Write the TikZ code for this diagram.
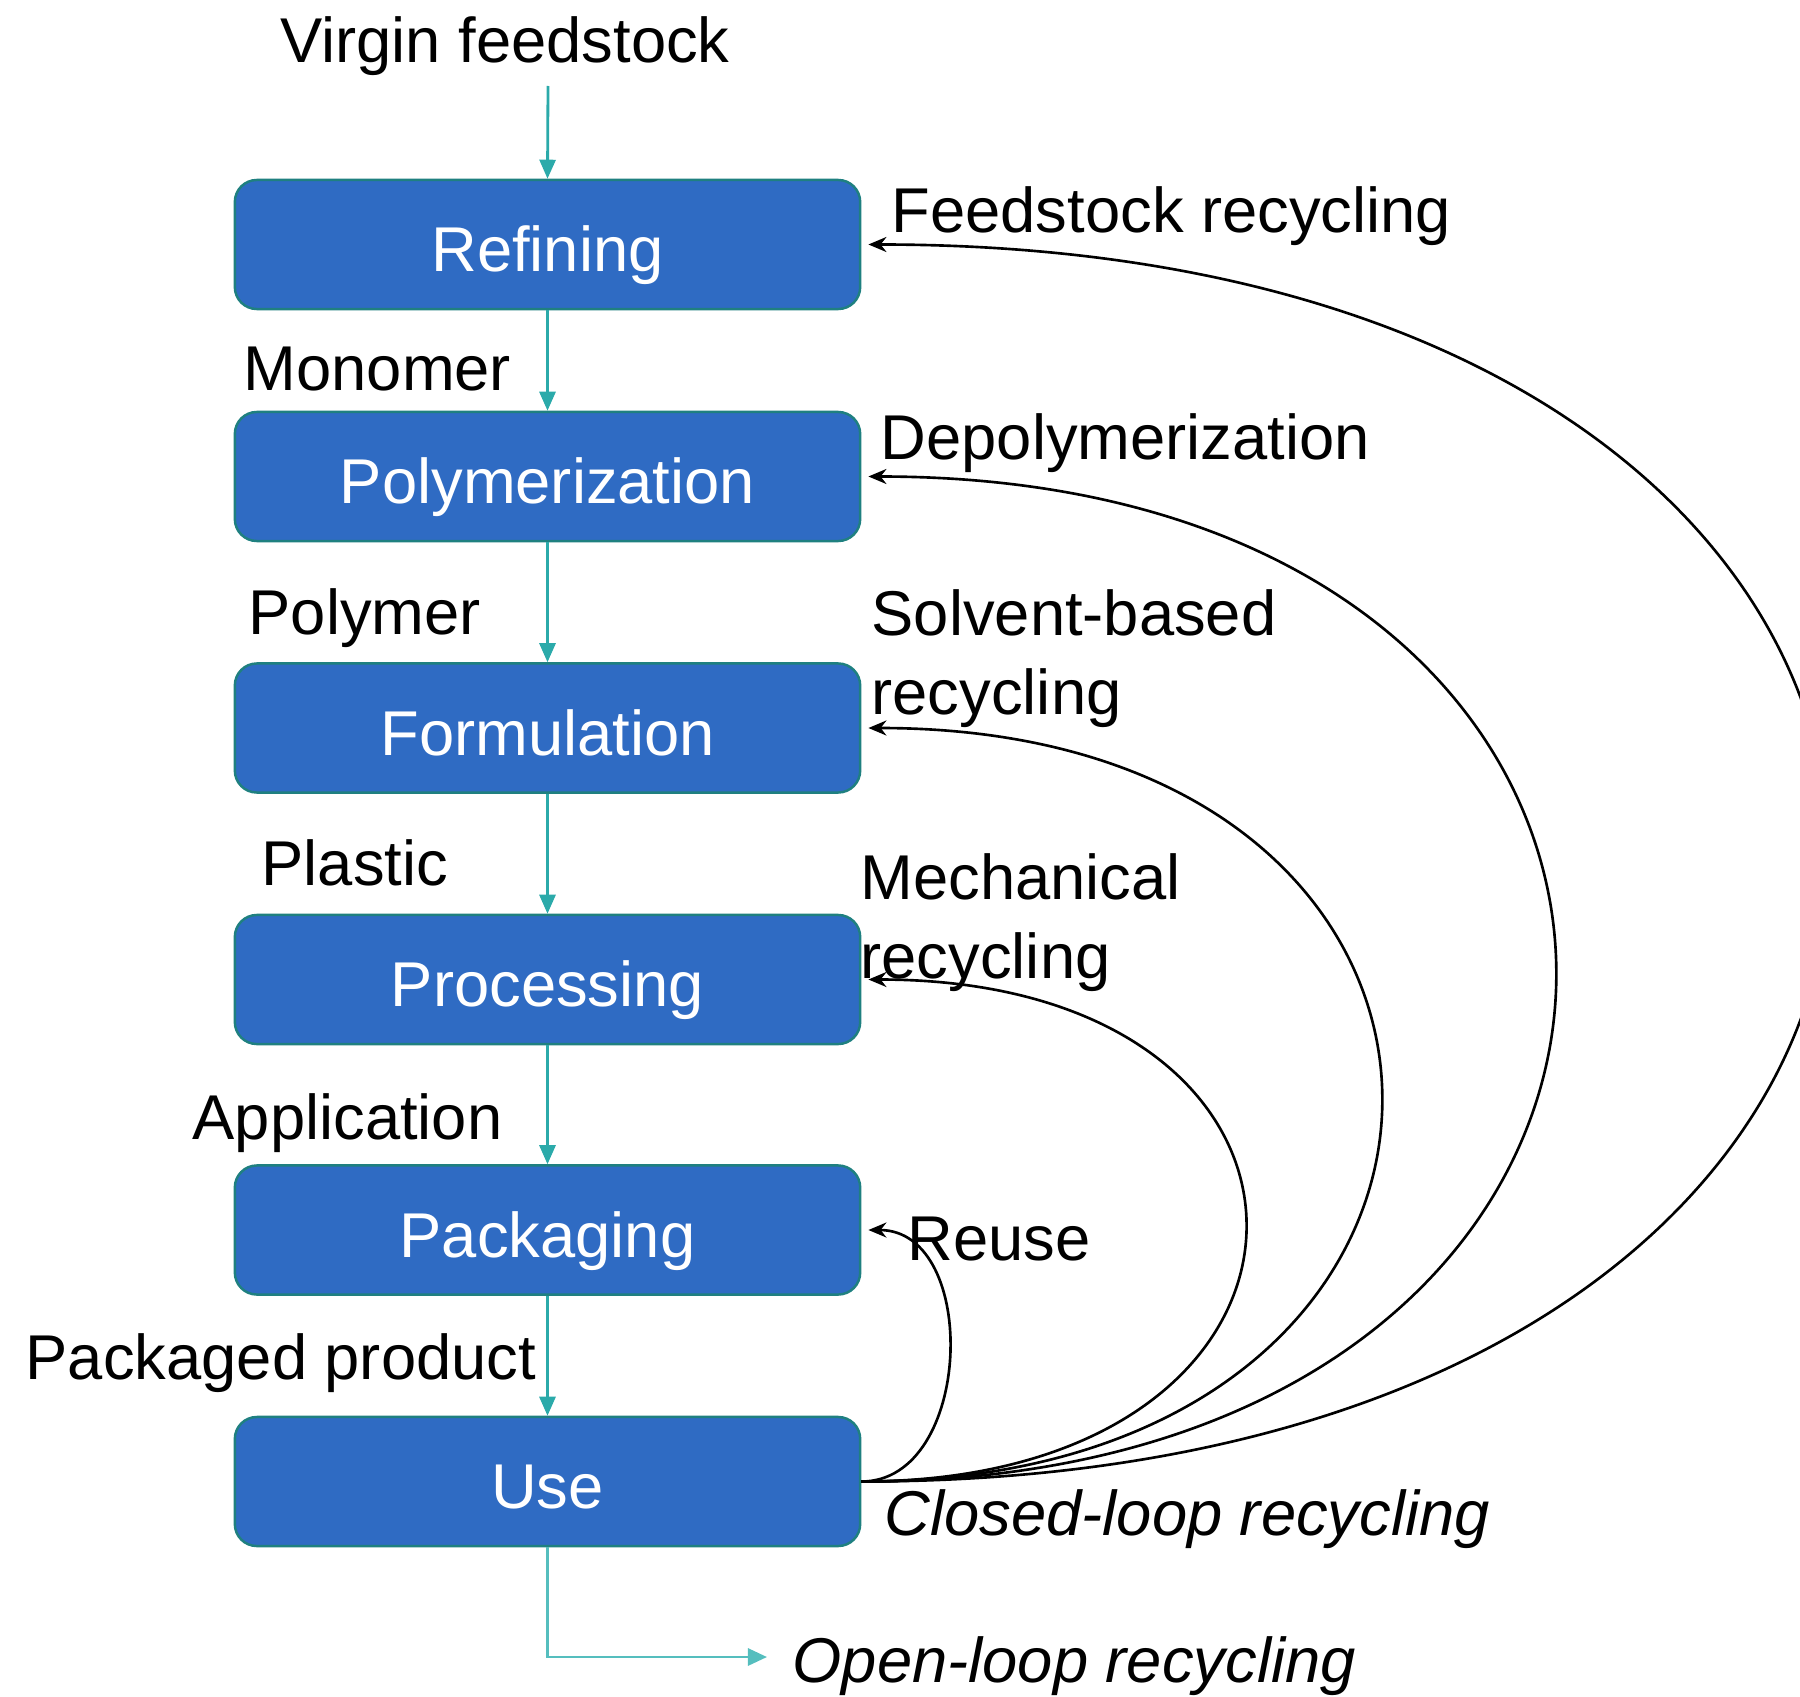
\documentclass[tikz,border=0pt]{standalone}
\usepackage{fontspec}
\setmainfont{Liberation Sans}
\usetikzlibrary{arrows.meta}
\definecolor{boxfill}{RGB}{47,107,195}
\definecolor{boxedge}{RGB}{31,128,128}
\definecolor{tealarrow}{RGB}{43,170,170}
\definecolor{openteal}{RGB}{85,190,190}
\begin{document}
\begin{tikzpicture}[x=0.01cm,y=-0.01cm,
  stagebox/.style={draw=boxedge,line width=0.7pt,fill=boxfill,rounded corners=0.22cm,
    minimum width=6.25cm,minimum height=1.29cm,inner sep=0pt,text=white,
    font=\fontsize{18pt}{21pt}\selectfont,text height=0.64cm,text depth=0.1cm},
  flow/.style={draw=tealarrow,line width=0.8pt,-{Triangle[length=0.19cm,width=0.16cm]}},
  openflow/.style={draw=openteal,line width=0.8pt,-{Triangle[length=0.19cm,width=0.17cm]}},
  loop/.style={draw=black,line width=0.75pt,-{Stealth[length=0.18cm,width=0.15cm]}},
  lbl/.style={font=\fontsize{18pt}{21pt}\selectfont,inner sep=0pt,anchor=base west},
  ilbl/.style={font=\fontsize{18pt}{21pt}\selectfont\itshape,inner sep=0pt,anchor=base west}]
\useasboundingbox (0,0) rectangle (1800,1697);
\clip (0,0) rectangle (1800,1697);

\node[stagebox] (ref) at (547.5,244.5) {Refining};
\node[stagebox] (pol) at (547.5,476.5) {Polymerization};
\node[stagebox] (for) at (547.5,728) {Formulation};
\node[stagebox] (pro) at (547.5,979.5) {Processing};
\node[stagebox] (pac) at (547.5,1230) {Packaging};
\node[stagebox] (use) at (547.5,1481.5) {Use};

\node[font=\fontsize{18pt}{21pt}\selectfont,inner sep=0pt,anchor=base] (virgin) at (505,63) {Virgin feedstock};
\coordinate (vstart) at (548,86);
\coordinate (oend) at (767,1657);

\draw[flow] (vstart) -- (ref.north);
\draw[flow] (ref.south) -- (pol.north);
\draw[flow] (pol.south) -- (for.north);
\draw[flow] (for.south) -- (pro.north);
\draw[flow] (pro.south) -- (pac.north);
\draw[flow] (pac.south) -- (use.north);
\draw[openflow] (use.south) |- (oend);

\node[lbl] (l1) at (891,232) {Feedstock recycling};
\node[lbl] (l2) at (243,390) {Monomer};
\node[lbl] (l3) at (880,459) {Depolymerization};
\node[lbl] (l4) at (248,634) {Polymer};
\node[lbl] (l5) at (871,635) {Solvent-based};
\node[lbl] (l5b) at (871,714) {recycling};
\node[lbl] (l6) at (261,885) {Plastic};
\node[lbl] (l7) at (860,899) {Mechanical};
\node[lbl] (l7b) at (860,978) {recycling};
\node[lbl] (l8) at (192,1139) {Application};
\node[lbl] (l9) at (907,1260) {Reuse};
\node[lbl] (l10) at (25,1379) {Packaged product};
\node[ilbl] (l11) at (884,1535) {Closed-loop recycling};
\node[ilbl] (l12) at (792,1682) {Open-loop recycling};

\draw[loop] (use.east) .. controls +(1285,0) and +(1285,0) .. ([xshift=0.07cm]ref.east);
\draw[loop] (use.east) .. controls +(920,0) and +(920,0) .. ([xshift=0.07cm]pol.east);
\draw[loop] (use.east) .. controls +(688,0) and +(688,0) .. ([xshift=0.07cm]for.east);
\draw[loop] (use.east) .. controls +(507,0) and +(507,0) .. ([xshift=0.07cm]pro.east);
\draw[loop] (use.east) .. controls +(112,0) and +(112,0) .. ([xshift=0.07cm]pac.east);
\end{tikzpicture}
\end{document}
